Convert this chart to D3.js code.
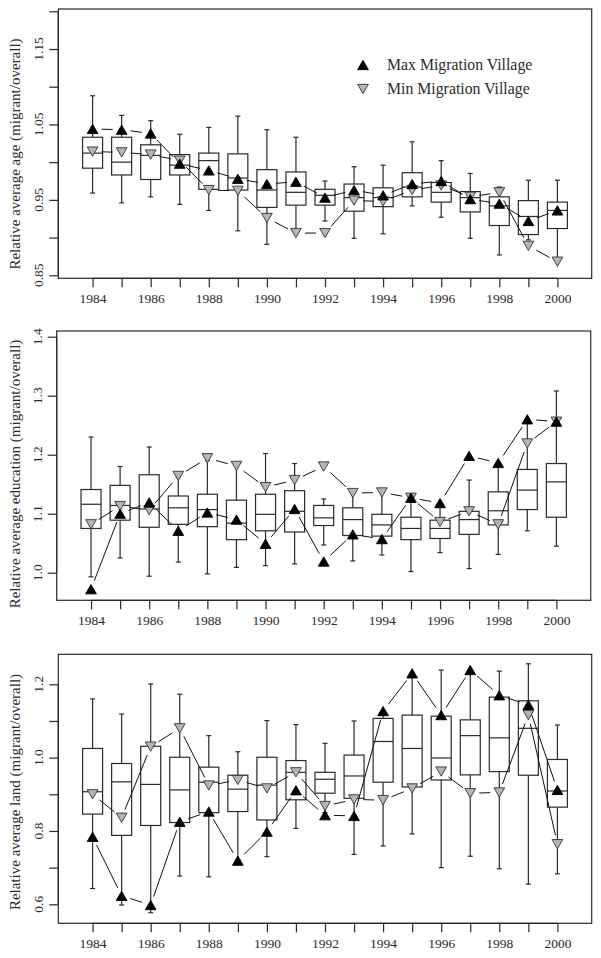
<!DOCTYPE html>
<html><head><meta charset="utf-8">
<script src="https://cdn.jsdelivr.net/npm/d3@7"></script>
<style>body{margin:0;background:#fff}svg{display:block}</style>
</head><body>
<script>
const years = d3.range(1984, 2001);
const xLabelYears = [1984,1986,1988,1990,1992,1994,1996,1998,2000];

const ageHi  = [1.088,1.062,1.055,1.037,1.046,1.061,1.043,1.033,0.975,0.994,0.996,1.027,1.002,0.985,0.967,0.976,0.976];
const ageQ3  = [1.033,1.033,1.023,1.010,1.012,1.011,0.990,0.987,0.964,0.971,0.966,0.986,0.973,0.961,0.954,0.949,0.947];
const ageMed = [1.012,1.000,1.009,0.996,1.002,0.979,0.963,0.960,0.956,0.953,0.953,0.967,0.960,0.953,0.942,0.928,0.936];
const ageQ1  = [0.992,0.983,0.977,0.983,0.964,0.963,0.940,0.943,0.943,0.935,0.941,0.954,0.947,0.934,0.916,0.904,0.912];
const ageLo  = [0.959,0.946,0.954,0.944,0.936,0.909,0.891,0.910,0.922,0.899,0.905,0.942,0.927,0.899,0.877,0.897,0.872];
const ageMax = [1.044,1.043,1.038,0.998,0.989,0.978,0.971,0.974,0.953,0.963,0.956,0.971,0.975,0.951,0.945,0.922,0.936];
const ageMin = [1.014,1.013,1.010,1.002,0.963,0.962,0.926,0.906,0.906,0.949,0.948,0.963,0.969,0.954,0.960,0.889,0.868];
const ageTicks = [0.85,0.90,0.95,1.00,1.05,1.10,1.15,1.20];
const ageTickLabels = [0.85,0.95,1.05,1.15];

const eduHi  = [1.230,1.180,1.213,1.162,1.190,1.180,1.202,1.185,1.125,1.135,1.136,1.126,1.112,1.157,1.180,1.259,1.308];
const eduQ3  = [1.141,1.148,1.166,1.130,1.133,1.123,1.133,1.139,1.114,1.110,1.099,1.094,1.089,1.104,1.137,1.175,1.185];
const eduMed = [1.116,1.114,1.108,1.110,1.107,1.084,1.099,1.104,1.093,1.090,1.081,1.075,1.075,1.090,1.105,1.140,1.154];
const eduQ1  = [1.075,1.089,1.077,1.082,1.078,1.056,1.071,1.069,1.080,1.063,1.062,1.056,1.058,1.065,1.081,1.107,1.094];
const eduLo  = [0.993,1.025,0.994,1.018,0.998,1.009,1.012,1.015,1.047,1.020,1.030,1.002,1.034,1.007,1.031,1.071,1.045];
const eduMax = [0.972,1.100,1.119,1.071,1.102,1.090,1.049,1.108,1.019,1.065,1.057,1.127,1.118,1.198,1.186,1.260,1.256];
const eduMin = [1.082,1.113,1.106,1.164,1.194,1.181,1.145,1.157,1.180,1.135,1.136,1.127,1.086,1.104,1.082,1.219,1.256];
const eduTicks = [1.0,1.1,1.2,1.3,1.4];
const eduTickLabels = [1.0,1.1,1.2,1.3,1.4];

const landHi  = [1.160,1.119,1.201,1.173,1.060,1.016,1.101,1.090,1.039,1.100,1.125,1.230,1.239,1.239,1.236,1.256,1.089];
const landQ3  = [1.025,0.984,1.031,1.001,0.974,0.952,1.001,0.992,0.960,1.007,1.107,1.116,1.113,1.103,1.165,1.155,0.995];
const landMed = [0.907,0.934,0.927,0.912,0.933,0.914,0.925,0.960,0.941,0.950,1.044,1.025,0.999,1.060,1.054,1.080,0.909];
const landQ1  = [0.846,0.788,0.815,0.823,0.850,0.853,0.830,0.885,0.903,0.889,0.933,0.920,0.939,0.953,0.962,0.952,0.865];
const landLo  = [0.643,0.598,0.577,0.677,0.675,0.722,0.730,0.807,0.850,0.736,0.759,0.792,0.700,0.731,0.697,0.655,0.683];
const landMax = [0.784,0.623,0.598,0.825,0.853,0.719,0.798,0.911,0.843,0.841,1.127,1.230,1.116,1.239,1.170,1.144,0.912];
const landMin = [0.900,0.836,1.030,1.080,0.924,0.939,0.916,0.960,0.868,0.886,0.884,0.916,0.962,0.903,0.905,1.116,0.764];
const landTicks = [0.6,0.7,0.8,0.9,1.0,1.1,1.2];
const landTickLabels = [0.6,0.8,1.0,1.2];

const legendLabels = ["Max Migration Village","Min Migration Village"];

const W = 601, H = 958;
const FONT = "'Liberation Serif', 'Times New Roman', serif";
const INK = "#2a2a2a";
const svg = d3.select("body").append("svg").attr("width", W).attr("height", H);
svg.append("rect").attr("width", W).attr("height", H).attr("fill", "#fff");

const panels = [
  {title:"Relative average age (migrant/overall)", lo:ageLo,q1:ageQ1,med:ageMed,q3:ageQ3,hi:ageHi,mx:ageMax,mn:ageMin,
   ticks:ageTicks, tickLabels:ageTickLabels, fmt:d3.format(".2f"),
   left:58.3,right:591.7,top:9,bottom:278.3, yA:[0.85,275.3], yB:[1.15,49], titleY:154, legend:true},
  {title:"Relative average education (migrant/overall)", lo:eduLo,q1:eduQ1,med:eduMed,q3:eduQ3,hi:eduHi,mx:eduMax,mn:eduMin,
   ticks:eduTicks, tickLabels:eduTickLabels, fmt:d3.format(".1f"),
   left:56.7,right:590.7,top:331,bottom:600.3, yA:[1.0,572.7], yB:[1.4,336.7], titleY:474, legend:false},
  {title:"Relative average land (migrant/overall)", lo:landLo,q1:landQ1,med:landMed,q3:landQ3,hi:landHi,mx:landMax,mn:landMin,
   ticks:landTicks, tickLabels:landTickLabels, fmt:d3.format(".1f"),
   left:58.3,right:591.7,top:654.3,bottom:923.3, yA:[0.6,904.3], yB:[1.2,684.3], titleY:792, legend:false}
];

// triangle whose bounding box is centred on (x, y)
function triPath(x, y, up, r) {
  const hx = r * 0.866, s = up ? 1 : -1;
  const yc = y + s * r / 4;
  return `M${x},${yc - s*r}L${x + hx},${yc + s*r/2}L${x - hx},${yc + s*r/2}Z`;
}

panels.forEach(p => {
  const g = svg.append("g");
  const x = d3.scaleLinear().domain([1984 - 1.18, 2000 + 1.18]).range([p.left, p.right]);
  const y = d3.scaleLinear().domain([p.yA[0], p.yB[0]]).range([p.yA[1], p.yB[1]]);
  const bw = 20, cap = 5;

  g.append("rect").attr("x", p.left).attr("y", p.top).attr("width", p.right - p.left).attr("height", p.bottom - p.top)
    .attr("fill", "none").attr("stroke", INK).attr("stroke-width", 1.2);

  const xa = g.append("g").attr("transform", `translate(0,${p.bottom})`)
    .call(d3.axisBottom(x).tickValues(years).tickSize(9).tickPadding(6)
      .tickFormat(d => xLabelYears.includes(d) ? d : ""));
  xa.select(".domain").remove();
  xa.append("line").attr("x1", x(1984)).attr("x2", x(2000)).attr("stroke", INK).attr("stroke-width", 1.2);
  xa.selectAll(".tick line").attr("stroke", INK).attr("stroke-width", 1.2);
  xa.selectAll(".tick text").attr("font-family", FONT).attr("font-size", 13.5).attr("fill", INK);

  const ya = g.append("g").attr("transform", `translate(${p.left},0)`)
    .call(d3.axisLeft(y).tickValues(p.ticks).tickSize(9).tickFormat(""));
  ya.select(".domain").remove();
  ya.append("line").attr("y1", y(p.ticks[0])).attr("y2", y(p.ticks[p.ticks.length-1])).attr("stroke", INK).attr("stroke-width", 1.2);
  ya.selectAll(".tick line").attr("stroke", INK).attr("stroke-width", 1.2);
  g.selectAll(".ylab").data(p.tickLabels).enter().append("text")
    .attr("transform", d => `translate(${p.left - 15},${y(d)}) rotate(-90)`)
    .attr("text-anchor", "middle").attr("font-family", FONT).attr("font-size", 13.5).attr("fill", INK)
    .text(d => p.fmt(d));

  g.append("text").attr("transform", `translate(20,${p.titleY}) rotate(-90)`)
    .attr("text-anchor", "middle").attr("font-family", FONT).attr("font-size", 15).attr("fill", INK)
    .text(p.title);

  const bx = g.append("g").attr("stroke", INK).attr("stroke-width", 1.2).attr("fill", "#fff");
  years.forEach((yr, i) => {
    const cx = x(yr);
    bx.append("line").attr("x1", cx).attr("x2", cx).attr("y1", y(p.hi[i])).attr("y2", y(p.q3[i]));
    bx.append("line").attr("x1", cx).attr("x2", cx).attr("y1", y(p.q1[i])).attr("y2", y(p.lo[i]));
    bx.append("line").attr("x1", cx - cap/2).attr("x2", cx + cap/2).attr("y1", y(p.hi[i])).attr("y2", y(p.hi[i]));
    bx.append("line").attr("x1", cx - cap/2).attr("x2", cx + cap/2).attr("y1", y(p.lo[i])).attr("y2", y(p.lo[i]));
    bx.append("rect").attr("x", cx - bw/2).attr("width", bw).attr("y", y(p.q3[i])).attr("height", y(p.q1[i]) - y(p.q3[i]));
    bx.append("line").attr("x1", cx - bw/2).attr("x2", cx + bw/2).attr("y1", y(p.med[i])).attr("y2", y(p.med[i]));
  });

  const gap = 9;
  [p.mx, p.mn].forEach(vals => {
    for (let i = 0; i < years.length - 1; i++) {
      const x0 = x(years[i]), y0 = y(vals[i]), x1 = x(years[i+1]), y1 = y(vals[i+1]);
      const dx = x1 - x0, dy = y1 - y0, len = Math.hypot(dx, dy);
      if (len <= 2*gap) continue;
      const ux = dx/len, uy = dy/len;
      g.append("line").attr("x1", x0 + ux*gap).attr("y1", y0 + uy*gap)
        .attr("x2", x1 - ux*gap).attr("y2", y1 - uy*gap)
        .attr("stroke", "#111").attr("stroke-width", 1);
    }
  });

  const r = 6.2;
  g.selectAll(".mn").data(p.mn).enter().append("path")
    .attr("d", (d, i) => triPath(x(years[i]), y(d), false, r))
    .attr("fill", "#b5b5b5").attr("stroke", "#333").attr("stroke-width", 0.9);
  g.selectAll(".mx").data(p.mx).enter().append("path")
    .attr("d", (d, i) => triPath(x(years[i]), y(d), true, r))
    .attr("fill", "#000").attr("stroke", "#000").attr("stroke-width", 0.9);

  if (p.legend) {
    const lg = g.append("g");
    const ly = [65, 89];
    lg.append("path").attr("d", triPath(363, ly[0], true, r)).attr("fill", "#000").attr("stroke", "#000").attr("stroke-width", 0.9);
    lg.append("path").attr("d", triPath(363, ly[1], false, r)).attr("fill", "#b5b5b5").attr("stroke", "#333").attr("stroke-width", 0.9);
    legendLabels.forEach((t, i) => {
      lg.append("text").attr("x", 387).attr("y", ly[i] + 5).attr("font-family", FONT).attr("font-size", 15.8)
        .attr("fill", INK).text(t);
    });
  }
});
</script>
</body></html>
